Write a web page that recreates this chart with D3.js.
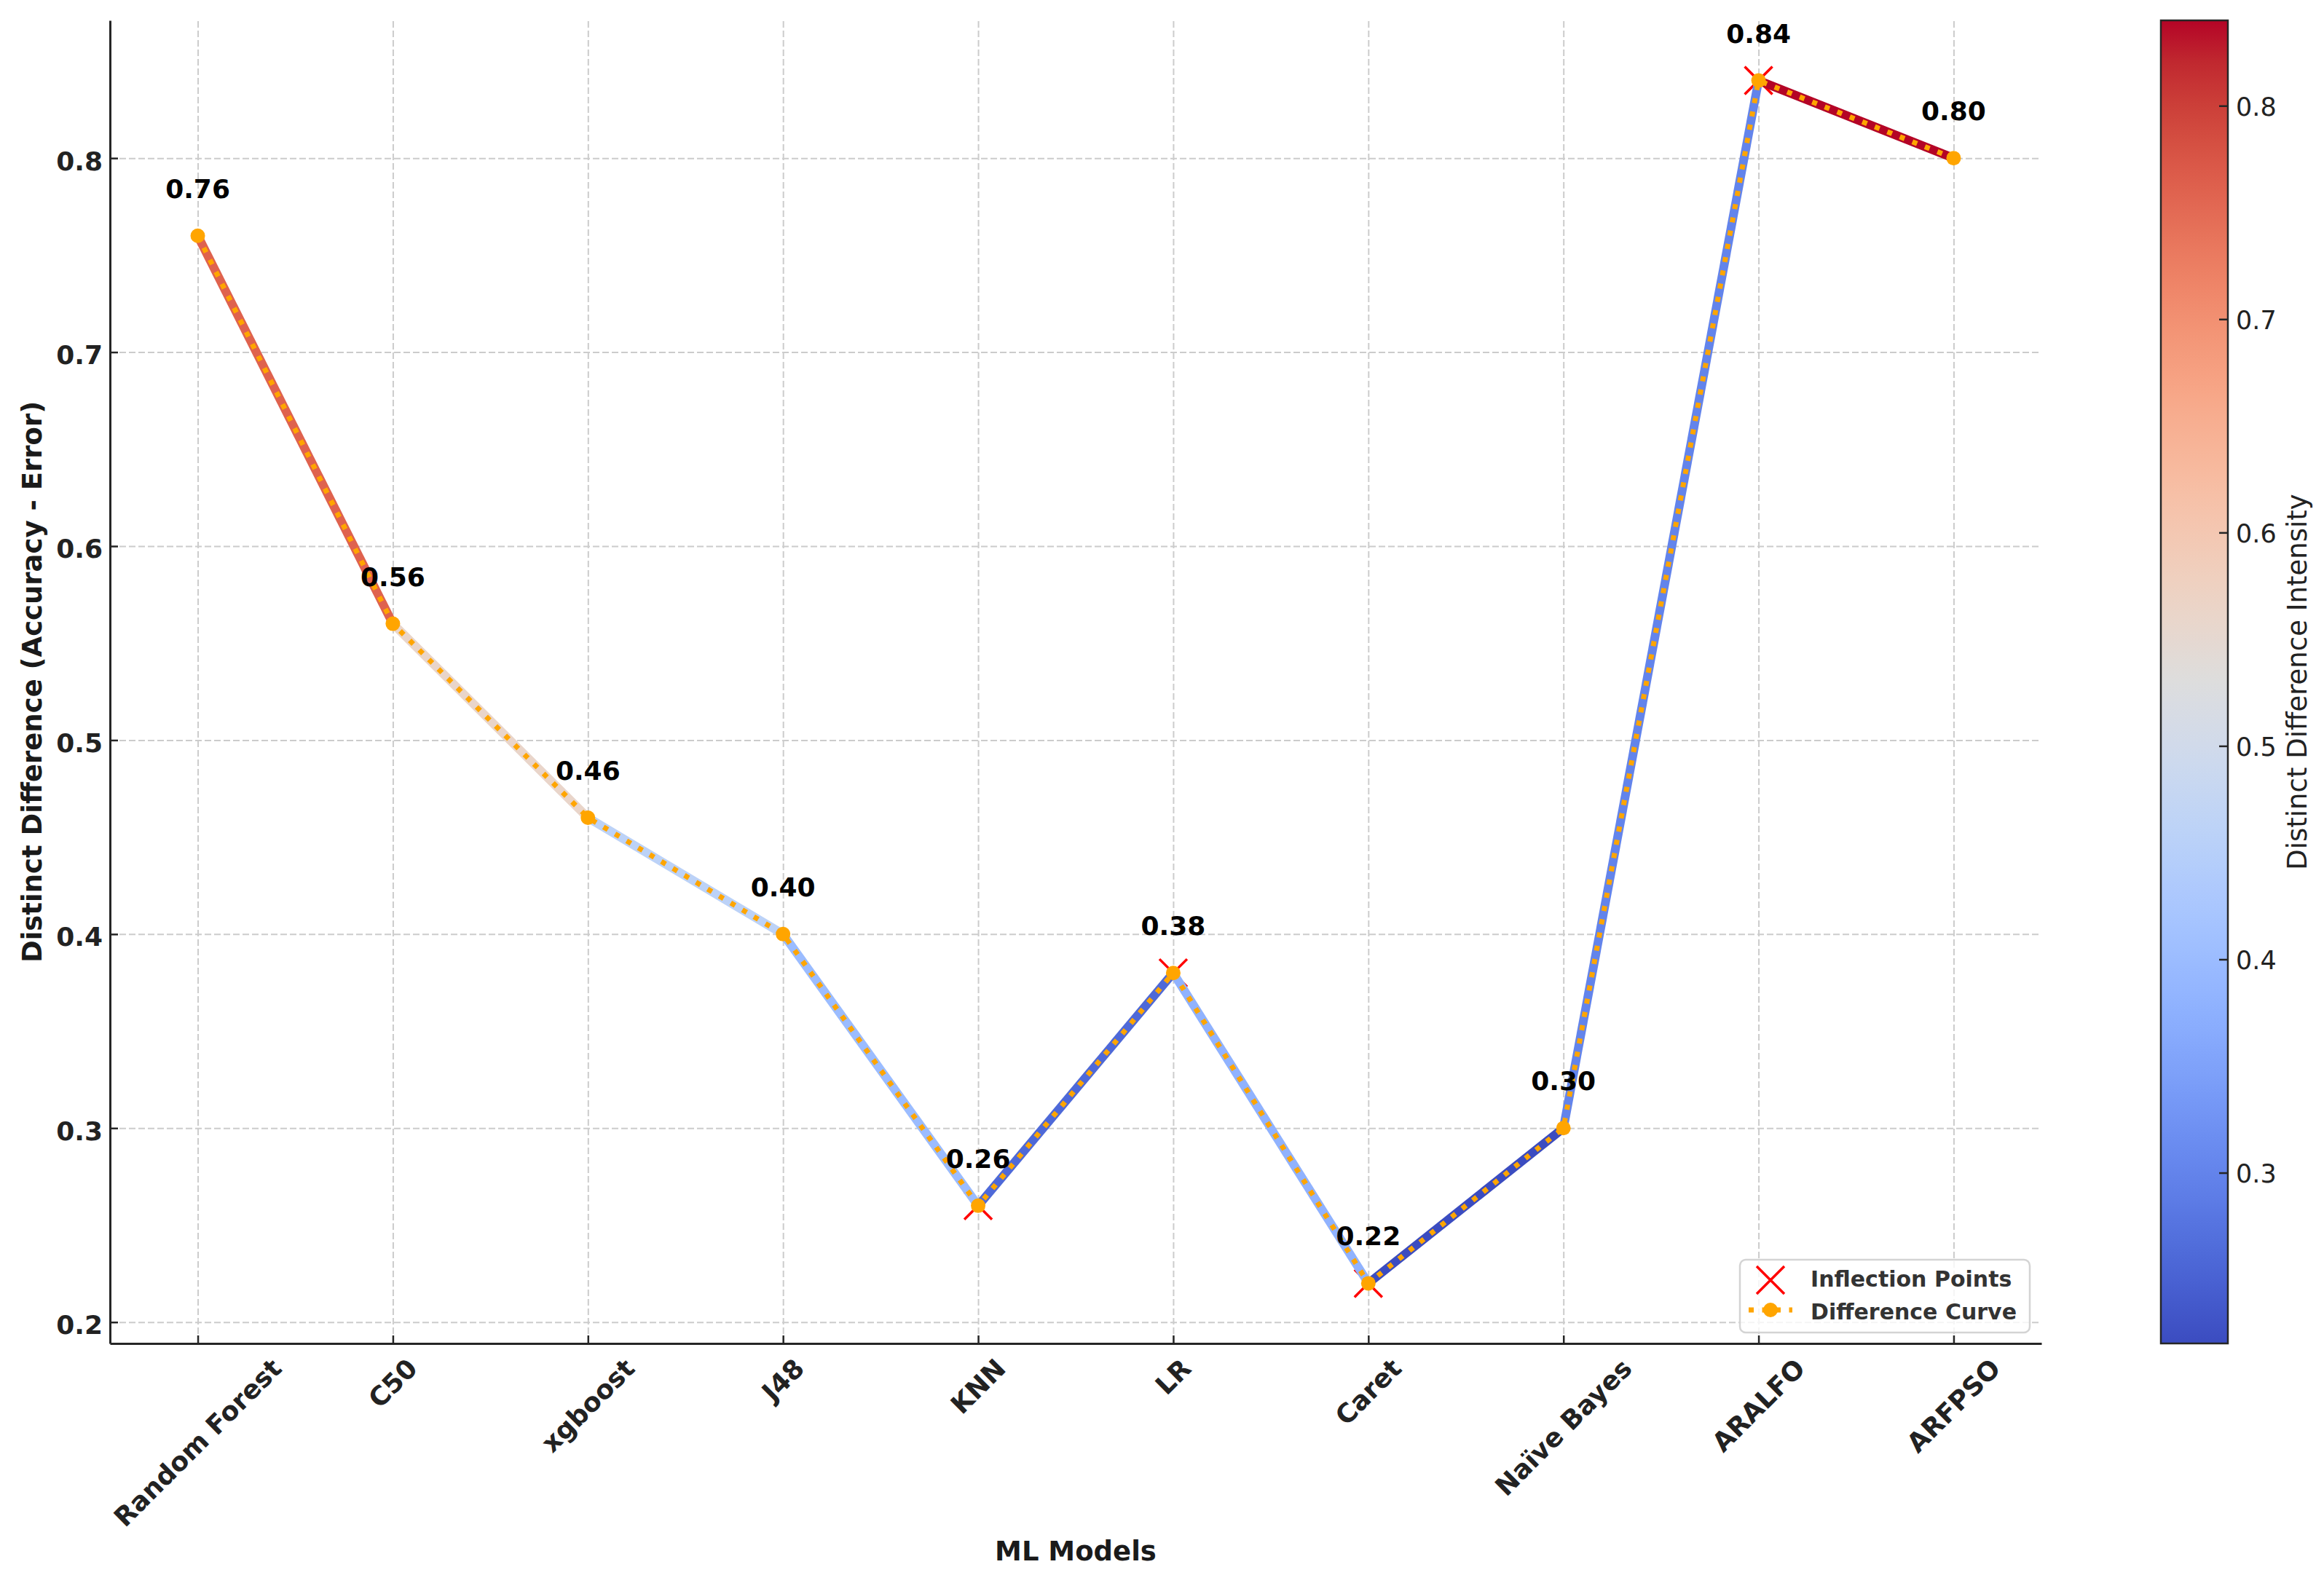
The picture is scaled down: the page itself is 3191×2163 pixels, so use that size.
<!DOCTYPE html>
<html>
<head>
<meta charset="utf-8">
<script src="https://cdn.jsdelivr.net/npm/d3@7"></script>
<style>
  body { margin: 0; background: #fff; }
  text { font-family: "DejaVu Sans", sans-serif; }
</style>
</head>
<body>
<div id="chart"></div>
<script>
// chart data
const models = ["Random Forest", "C50", "xgboost", "J48", "KNN", "LR", "Caret", "Naïve Bayes", "ARALFO", "ARFPSO"];
const differences = [0.76, 0.56, 0.46, 0.40, 0.26, 0.38, 0.22, 0.30, 0.84, 0.80];
const inflectionModels = ["KNN", "LR", "Caret", "ARALFO"];
const yTicks = [0.2, 0.3, 0.4, 0.5, 0.6, 0.7, 0.8];
const colorbarTicks = [0.3, 0.4, 0.5, 0.6, 0.7, 0.8];
const legendLabels = ["Inflection Points", "Difference Curve"];

// coolwarm colormap control colours (Moreland)
const coolwarm = [
    [59, 76, 192], [68, 90, 204], [77, 104, 215], [87, 117, 225], [98, 130, 234],
    [108, 142, 241], [119, 154, 247], [130, 165, 251], [141, 176, 254], [152, 185, 255],
    [163, 194, 255], [174, 201, 253], [184, 208, 249], [194, 213, 244], [204, 217, 238],
    [213, 219, 230], [221, 221, 221], [229, 216, 209], [236, 211, 197], [241, 204, 185],
    [245, 196, 173], [247, 187, 160], [247, 177, 148], [247, 166, 135], [244, 154, 123],
    [241, 141, 111], [236, 127, 99], [229, 112, 88], [222, 96, 77], [213, 80, 66],
    [203, 62, 56], [192, 40, 47], [180, 4, 38]
];

const width = 3191, height = 2163;
const plot = {left: 151, right: 2803, top: 28, bottom: 1845};
const cbar = {left: 2967, right: 3059};
const tickFont = 36;
const labelFont = 37;

let lo = d3.min(differences), hi = d3.max(differences),
    pad = (hi - lo) * 0.05;

let x = d3.scalePoint()
    .domain(models)
    .range([plot.left, plot.right])
    .padding(0.45);

let y = d3.scaleLinear()
    .domain([lo - pad, hi + pad])
    .range([plot.bottom, plot.top]);

let cmap = d3.piecewise(d3.interpolateRgb, coolwarm.map(c => d3.rgb(c[0], c[1], c[2]).formatHex()));
let norm = d3.scaleLinear().domain([lo, hi]).range([0, 1]).clamp(true);
let color = function (v) {
    return cmap(norm(v));
};

let points = models.map(function (m, i) {
    return {model: m, value: differences[i]};
});

let svg = d3.select("#chart").append("svg")
    .attr("width", width)
    .attr("height", height);

// grid
svg.append("g")
    .attr("transform", "translate(0," + plot.bottom + ")")
    .call(d3.axisBottom(x).tickSize(-(plot.bottom - plot.top)).tickFormat(""))
    .call(g => g.select(".domain").remove())
    .selectAll("line")
    .attr("stroke", "#cccccc")
    .attr("stroke-width", 2)
    .attr("stroke-dasharray", "9,4");

svg.append("g")
    .attr("transform", "translate(" + plot.left + ",0)")
    .call(d3.axisLeft(y).tickValues(yTicks).tickSize(-(plot.right - plot.left)).tickFormat(""))
    .call(g => g.select(".domain").remove())
    .selectAll("line")
    .attr("stroke", "#cccccc")
    .attr("stroke-width", 2)
    .attr("stroke-dasharray", "9,4");

// inflection markers (below the lines)
let xMark = "M-19,-19L19,19M-19,19L19,-19";
svg.append("g")
    .selectAll("path")
    .data(points.filter(p => inflectionModels.includes(p.model)))
    .enter().append("path")
    .attr("transform", d => "translate(" + x(d.model) + "," + y(d.value) + ")")
    .attr("d", xMark)
    .attr("fill", "none")
    .attr("stroke", "#ff0000")
    .attr("stroke-width", 3.5);

// coloured segments
svg.append("g")
    .selectAll("line")
    .data(d3.pairs(points))
    .enter().append("line")
    .attr("x1", d => x(d[0].model))
    .attr("y1", d => y(d[0].value))
    .attr("x2", d => x(d[1].model))
    .attr("y2", d => y(d[1].value))
    .attr("stroke", d => color(d[0].value))
    .attr("stroke-width", 12)
    .attr("stroke-linecap", "butt");

// dotted difference curve
let line = d3.line()
    .x(d => x(d.model))
    .y(d => y(d.value));

svg.append("path")
    .datum(points)
    .attr("d", line)
    .attr("fill", "none")
    .attr("stroke", "#ffa500")
    .attr("stroke-width", 7)
    .attr("stroke-dasharray", "7,11.5");

svg.append("g")
    .selectAll("circle")
    .data(points)
    .enter().append("circle")
    .attr("cx", d => x(d.model))
    .attr("cy", d => y(d.value))
    .attr("r", 10)
    .attr("fill", "#ffa500");

// value labels
svg.append("g")
    .selectAll("text")
    .data(points)
    .enter().append("text")
    .attr("x", d => x(d.model))
    .attr("y", d => y(d.value) - 52)
    .attr("text-anchor", "middle")
    .attr("font-size", tickFont)
    .attr("font-weight", "bold")
    .attr("fill", "#000")
    .text(d => d3.format(".2f")(d.value));

// axes
let yAxis = svg.append("g")
    .attr("transform", "translate(" + plot.left + ",0)")
    .call(d3.axisLeft(y).tickValues(yTicks).tickSize(-11).tickSizeOuter(0)
        .tickPadding(10).tickFormat(d3.format(".1f")));
yAxis.select(".domain").attr("stroke", "#262626").attr("stroke-width", 3);
yAxis.selectAll(".tick line").attr("stroke", "#262626").attr("stroke-width", 2.5);
yAxis.selectAll(".tick text")
    .attr("dy", "0.44em")
    .attr("font-size", tickFont)
    .attr("font-weight", "bold")
    .attr("fill", "#222");

let xAxis = svg.append("g")
    .attr("transform", "translate(0," + plot.bottom + ")")
    .call(d3.axisBottom(x).tickSize(-11).tickSizeOuter(0).tickFormat(""));
xAxis.select(".domain").attr("stroke", "#262626").attr("stroke-width", 3);
xAxis.selectAll(".tick line").attr("stroke", "#262626").attr("stroke-width", 2.5);
xAxis.selectAll(".tick text").remove();

// rotated category labels, bbox centred under tick
svg.append("g")
    .selectAll("g")
    .data(models)
    .enter().append("g")
    .each(function (d) {
        let g = d3.select(this);
        let t = g.append("text")
            .attr("text-anchor", "middle")
            .attr("y", 0.346 * tickFont)
            .attr("font-size", tickFont)
            .attr("font-weight", "bold")
            .attr("fill", "#222")
            .text(d);
        let w = t.node().getComputedTextLength();
        let h = 1.164 * tickFont;
        let half = (w + h) * Math.SQRT1_2 / 2;
        g.attr("transform", "translate(" + x(d) + "," + (plot.bottom + 13 + half) + ") rotate(-45)");
    });

svg.append("text")
    .attr("x", (plot.left + plot.right) / 2)
    .attr("y", 2143)
    .attr("text-anchor", "middle")
    .attr("font-size", labelFont)
    .attr("font-weight", "bold")
    .attr("fill", "#1a1a1a")
    .text("ML Models");

svg.append("text")
    .attr("transform", "translate(57," + (plot.top + plot.bottom) / 2 + ") rotate(-90)")
    .attr("text-anchor", "middle")
    .attr("font-size", labelFont)
    .attr("font-weight", "bold")
    .attr("fill", "#1a1a1a")
    .text("Distinct Difference (Accuracy - Error)");

// legend
let legend = svg.append("g");
legend.append("rect")
    .attr("x", 2389).attr("y", 1730)
    .attr("width", 398).attr("height", 100)
    .attr("rx", 8)
    .attr("fill", "#fff").attr("fill-opacity", 0.8)
    .attr("stroke", "#d4d4d4").attr("stroke-width", 2.5);
legend.append("path")
    .attr("transform", "translate(2431,1758)")
    .attr("d", xMark)
    .attr("fill", "none")
    .attr("stroke", "#ff0000")
    .attr("stroke-width", 3.5);
legend.append("line")
    .attr("x1", 2401).attr("x2", 2461)
    .attr("y1", 1799).attr("y2", 1799)
    .attr("stroke", "#ffa500")
    .attr("stroke-width", 7)
    .attr("stroke-dasharray", "7,11.5");
legend.append("circle")
    .attr("cx", 2431).attr("cy", 1799).attr("r", 10)
    .attr("fill", "#ffa500");
legend.selectAll("text.lbl")
    .data(legendLabels)
    .enter().append("text")
    .attr("class", "lbl")
    .attr("x", 2486)
    .attr("y", (d, i) => 1767 + i * 45)
    .attr("font-size", 30)
    .attr("font-weight", "bold")
    .attr("fill", "#333")
    .text(d => d);

// colorbar
let cy = d3.scaleLinear().domain([lo, hi]).range([plot.bottom, plot.top]);

let grad = svg.append("defs").append("linearGradient")
    .attr("id", "cw")
    .attr("x1", 0).attr("y1", 1).attr("x2", 0).attr("y2", 0);
grad.selectAll("stop")
    .data(d3.range(65))
    .enter().append("stop")
    .attr("offset", d => d / 64)
    .attr("stop-color", d => cmap(d / 64));

svg.append("rect")
    .attr("x", cbar.left).attr("y", plot.top)
    .attr("width", cbar.right - cbar.left)
    .attr("height", plot.bottom - plot.top)
    .attr("fill", "url(#cw)")
    .attr("stroke", "#262626")
    .attr("stroke-width", 2.5);

let cAxis = svg.append("g")
    .attr("transform", "translate(" + cbar.right + ",0)")
    .call(d3.axisRight(cy).tickValues(colorbarTicks).tickSize(-12).tickSizeOuter(0)
        .tickPadding(11).tickFormat(d3.format(".1f")));
cAxis.select(".domain").remove();
cAxis.selectAll(".tick line").attr("stroke", "#262626").attr("stroke-width", 2.5);
cAxis.selectAll(".tick text")
    .attr("dy", "0.38em")
    .attr("font-size", 35)
    .attr("fill", "#222");

svg.append("text")
    .attr("transform", "translate(3167," + (plot.top + plot.bottom) / 2 + ") rotate(-90)")
    .attr("text-anchor", "middle")
    .attr("font-size", labelFont)
    .attr("fill", "#222")
    .text("Distinct Difference Intensity");
</script>
</body>
</html>
